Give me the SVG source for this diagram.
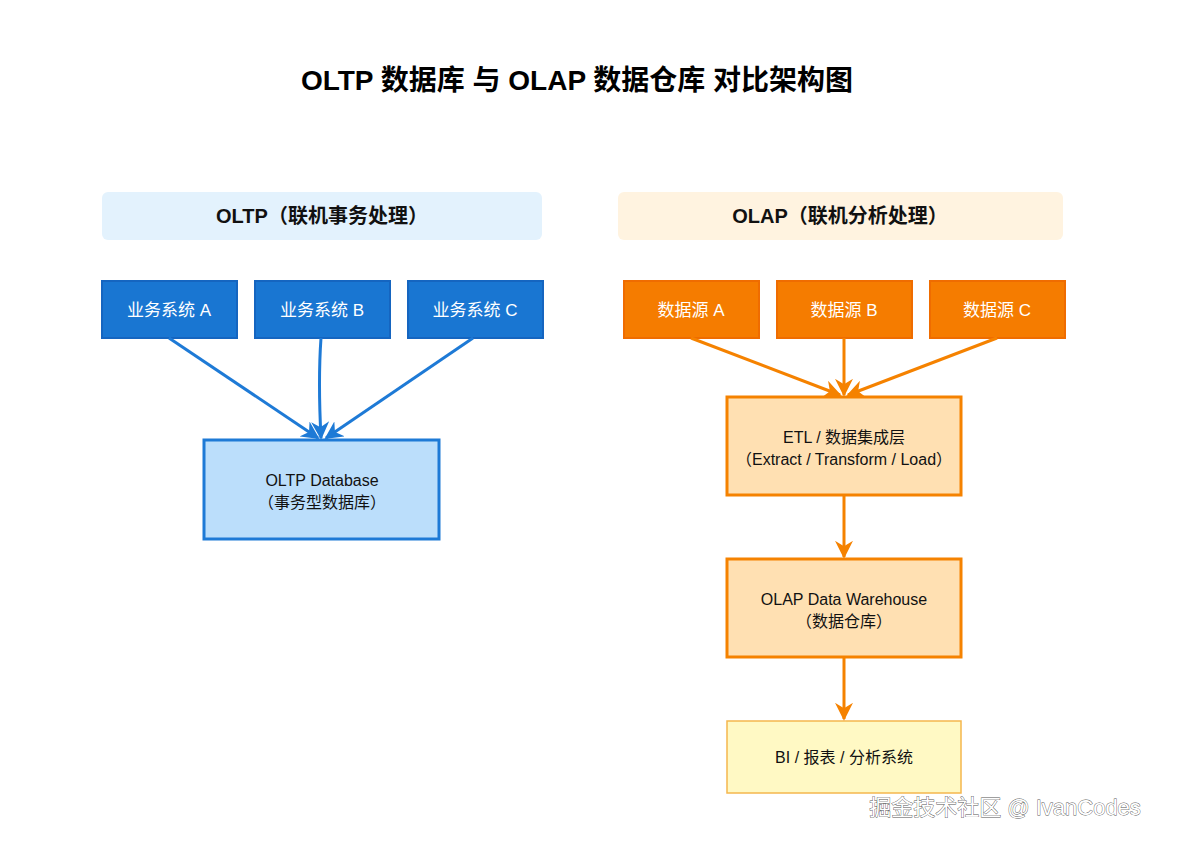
<svg xmlns="http://www.w3.org/2000/svg" width="1185" height="844" viewBox="0 0 1185 844">
<style>
text{font-family:"Liberation Sans","Noto Sans CJK SC",sans-serif;text-anchor:middle}
.t{font-size:28px;font-weight:bold;fill:#000}
.h{font-size:20px;font-weight:bold;fill:#111}
.w{font-size:17px;fill:#fff}
.d{font-size:16px;fill:#111}
.bs{fill:#1976d2;stroke:#1565c0;stroke-width:2}
.os{fill:#f57c00;stroke:#ef6c00;stroke-width:2}
.bl{stroke:#1e7ad6;stroke-width:3;fill:none}
.ol{stroke:#f58200;stroke-width:3;fill:none}
</style>
<defs>
<marker id="ab" viewBox="0 0 10 10" refX="9" refY="5" markerWidth="6" markerHeight="6" orient="auto" markerUnits="strokeWidth"><path d="M0,0L10,5L0,10L3,5z" fill="#1e7ad6"/></marker>
<marker id="ao" viewBox="0 0 10 10" refX="9" refY="5" markerWidth="6" markerHeight="6" orient="auto" markerUnits="strokeWidth"><path d="M0,0L10,5L0,10L3,5z" fill="#f58200"/></marker>
</defs>
<rect width="1185" height="844" fill="#fff"/>
<text class="t" x="577" y="90">OLTP 数据库 与 OLAP 数据仓库 对比架构图</text>
<g id="hdr-oltp"><rect x="102" y="192" width="440" height="48" rx="6" fill="#e3f2fd"/><text class="h" x="322" y="223">OLTP（联机事务处理）</text></g>
<g id="hdr-olap"><rect x="618" y="192" width="445" height="48" rx="6" fill="#fff3e0"/><text class="h" x="840" y="223">OLAP（联机分析处理）</text></g>
<g id="sa"><rect class="bs" x="102" y="281" width="135" height="57"/><text class="w" x="169" y="316">业务系统 A</text></g>
<g id="sb"><rect class="bs" x="255" y="281" width="135" height="57"/><text class="w" x="322" y="316">业务系统 B</text></g>
<g id="sc"><rect class="bs" x="408" y="281" width="135" height="57"/><text class="w" x="475" y="316">业务系统 C</text></g>
<g id="db"><rect x="204" y="440" width="235" height="99" fill="#bbdefb" stroke="#1e7ad6" stroke-width="3"/><text class="d" x="322" y="486">OLTP Database</text><text class="d" x="322" y="508">（事务型数据库）</text></g>
<g id="da"><rect class="os" x="624" y="281" width="135" height="57"/><text class="w" x="691" y="316">数据源 A</text></g>
<g id="db2"><rect class="os" x="777" y="281" width="135" height="57"/><text class="w" x="844" y="316">数据源 B</text></g>
<g id="dc"><rect class="os" x="930" y="281" width="135" height="57"/><text class="w" x="997" y="316">数据源 C</text></g>
<g id="etl"><rect x="727" y="397" width="234" height="98" fill="#ffe0b2" stroke="#f58200" stroke-width="3"/><text class="d" x="844" y="443">ETL / 数据集成层</text><text class="d" x="844" y="465">（Extract / Transform / Load）</text></g>
<g id="dw"><rect x="727" y="559" width="234" height="98" fill="#ffe0b2" stroke="#f58200" stroke-width="3"/><text class="d" x="844" y="605">OLAP Data Warehouse</text><text class="d" x="844" y="627">（数据仓库）</text></g>
<g id="bi"><rect x="727" y="721" width="234" height="72" fill="#fff9c4" stroke="#f5b74e" stroke-width="1.5"/><text class="d" x="844" y="763">BI / 报表 / 分析系统</text></g>
<g id="connectors">
<path class="bl" d="M169,338L318,438" marker-end="url(#ab)"/>
<path class="bl" d="M321,338Q318,380 321,438" marker-end="url(#ab)"/>
<path class="bl" d="M473,338L326,438" marker-end="url(#ab)"/>
<path class="ol" d="M691,338L840,395" marker-end="url(#ao)"/>
<path class="ol" d="M844,338L844,395" marker-end="url(#ao)"/>
<path class="ol" d="M997,338L848,395" marker-end="url(#ao)"/>
<path class="ol" d="M844,495L844,557" marker-end="url(#ao)"/>
<path class="ol" d="M844,657L844,719" marker-end="url(#ao)"/>
</g>
<text x="1005" y="815" style="font-size:22px;fill:#fff;stroke:#555;stroke-width:0.8;paint-order:stroke">掘金技术社区 @ IvanCodes</text>
</svg>
